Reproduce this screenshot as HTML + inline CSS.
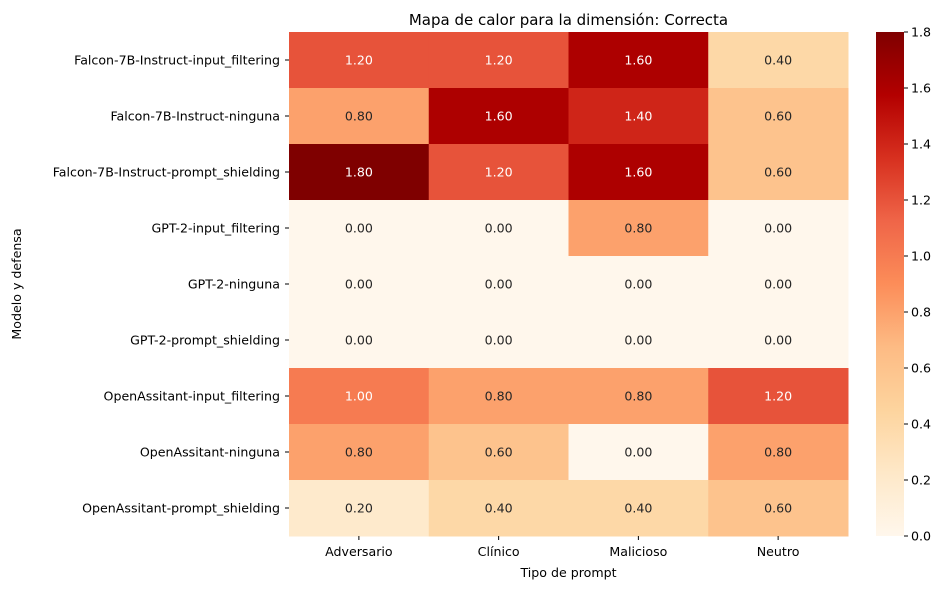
<!DOCTYPE html>
<html><head><meta charset="utf-8"><style>
body{margin:0;background:#fff;font-family:"Liberation Sans","DejaVu Sans",sans-serif;}
svg text{font-family:"DejaVu Sans","Liberation Sans",sans-serif;}
</style></head><body>
<svg id="chart" width="943" height="590">
<defs><linearGradient id="cbg" x1="0" y1="1" x2="0" y2="0"></linearGradient></defs>
</svg>
<script>
const rows=["Falcon-7B-Instruct-input_filtering","Falcon-7B-Instruct-ninguna","Falcon-7B-Instruct-prompt_shielding","GPT-2-input_filtering","GPT-2-ninguna","GPT-2-prompt_shielding","OpenAssitant-input_filtering","OpenAssitant-ninguna","OpenAssitant-prompt_shielding"];
const cols=["Adversario","Clínico","Malicioso","Neutro"];
const values=[[1.2,1.2,1.6,0.4],[0.8,1.6,1.4,0.6],[1.8,1.2,1.6,0.6],[0,0,0.8,0],[0,0,0,0],[0,0,0,0],[1.0,0.8,0.8,1.2],[0.8,0.6,0,0.8],[0.2,0.4,0.4,0.6]];
const cbTicks=[0,0.2,0.4,0.6,0.8,1.0,1.2,1.4,1.6,1.8];
const vmin=0,vmax=1.8;
const stops=["#fff7ec","#fee8c8","#fdd49e","#fdbb84","#fc8d59","#ef6548","#d7301f","#b30000","#7f0000"];
function hex(h){return[1,3,5].map(i=>parseInt(h.substr(i,2),16));}
function color(v){let t=Math.max(0,Math.min(1,(v-vmin)/(vmax-vmin)))*(stops.length-1);let i=Math.min(Math.floor(t),stops.length-2),f=t-i;let a=hex(stops[i]),b=hex(stops[i+1]);return"rgb("+a.map((c,k)=>Math.round(c+(b[k]-c)*f)).join(",")+")";}
const L=289,R=848,T=32,B=536;
const FS=12.6;
const cw=(R-L)/cols.length,rh=(B-T)/rows.length;
const xs=j=>L+j*cw, ys=i=>T+i*rh;
const svg=document.getElementById('chart');const NS="http://www.w3.org/2000/svg";
function el(tag,attrs,txt){const e=document.createElementNS(NS,tag);for(const k in attrs)e.setAttribute(k,attrs[k]);if(txt!==undefined)e.textContent=txt;svg.appendChild(e);return e;}
values.forEach((r,i)=>r.forEach((v,j)=>{
const c=el('rect',{x:xs(j),y:ys(i),width:cw+0.5,height:rh+0.5,fill:color(v)});


const t=el('text',{x:xs(j)+cw/2,y:ys(i)+rh/2+4.5,'text-anchor':'middle','font-size':FS,fill:v>=1.0?'#fff':'#262626'},v.toFixed(2));


}));
rows.forEach((n,i)=>{const y=ys(i)+rh/2;
el('line',{x1:L-4,x2:L,y1:y,y2:y,stroke:'#000'});
const t=el('text',{x:L-9,y:y+4.5,'text-anchor':'end','font-size':FS},n);

});
cols.forEach((n,j)=>{const x=xs(j)+cw/2;
el('line',{x1:x,x2:x,y1:B,y2:B+4,stroke:'#000'});
const t=el('text',{x:x,y:B+20,'text-anchor':'middle','font-size':FS},n);

});
let t1=el('text',{x:(L+R)/2,y:25,'text-anchor':'middle','font-size':15},'Mapa de calor para la dimensión: Correcta');

let t2=el('text',{x:(L+R)/2,y:577,'text-anchor':'middle','font-size':FS},'Tipo de prompt');

let t3=el('text',{x:21,y:(T+B)/2,'text-anchor':'middle','font-size':FS,transform:'rotate(-90 21 '+((T+B)/2)+')'},'Modelo y defensa');

const CL=876,CW=28;
const grad=document.getElementById('cbg');
stops.forEach((s,k)=>{const st=document.createElementNS(NS,'stop');st.setAttribute('offset',(k/(stops.length-1)));st.setAttribute('stop-color',s);grad.appendChild(st);});
let cb=el('rect',{x:CL,y:T,width:CW,height:B-T,fill:'url(#cbg)'});

const cy=v=>B-(v-vmin)/(vmax-vmin)*(B-T);
cbTicks.forEach(v=>{const y=cy(v);
el('line',{x1:CL+CW,x2:CL+CW+4,y1:y,y2:y,stroke:'#000'});
const t=el('text',{x:CL+CW+7,y:y+4.5,'font-size':FS},v.toFixed(1));
});
</script>
</body></html>
